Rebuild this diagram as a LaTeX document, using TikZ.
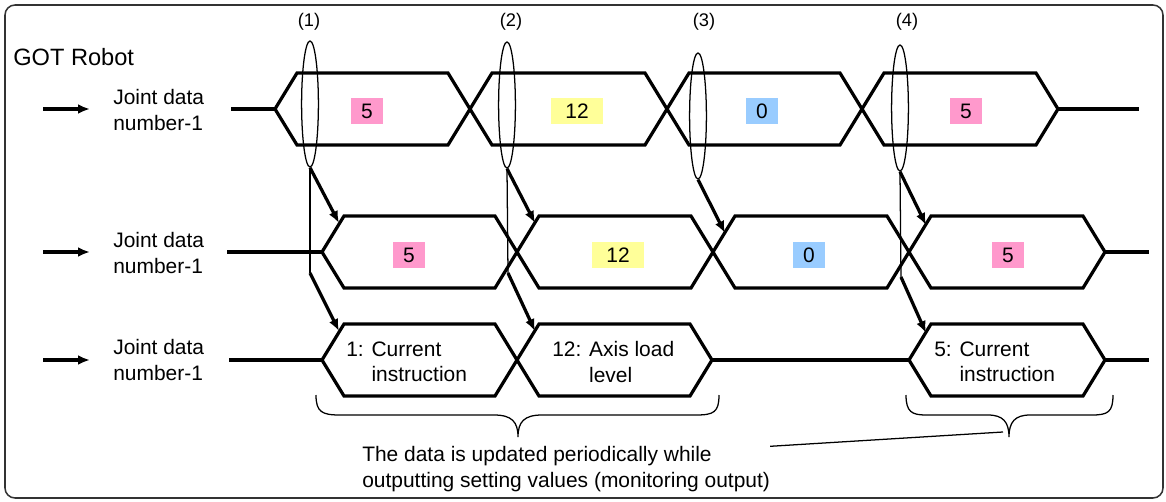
\documentclass[tikz,border=0pt]{standalone}
\usepackage{fontspec}
\setmainfont{Liberation Sans}
\usetikzlibrary{arrows.meta, shapes.geometric}

\definecolor{pinkv}{HTML}{FF99CC}
\definecolor{yellowv}{HTML}{FFFF99}
\definecolor{bluev}{HTML}{99CCFF}
\definecolor{framec}{HTML}{333333}

% one data slot of the timing line: left tip, right tip, middle height
\newcommand{\hexa}[3]{\draw[wave] (#1,#3) -- ({#1+22},{#3-36}) -- ({#2-22},{#3-36}) -- (#2,#3) -- ({#2-22},{#3+36}) -- ({#1+22},{#3+36}) -- cycle;}
\newcommand{\txtsize}{\fontsize{14.9}{18}\selectfont}

\begin{document}
\begin{tikzpicture}[x=0.025cm, y=-0.025cm,
	wave/.style = {line width=2.3pt, line join=miter},
	thinl/.style = {line width=0.9pt},
	feed/.style = {-{Latex[length=8.5pt, width=7pt]}, line width=2.3pt},
	val/.style = {inner sep=0, minimum height=0.65cm, minimum width=0.8cm, font=\txtsize},
	lab/.style = {anchor=west, align=left, inner sep=0, font=\txtsize},
	ell/.style = {ellipse, draw, thinl, inner sep=0, minimum width=0.42cm, minimum height=3.15cm}]
	\useasboundingbox (0,0) rectangle (1166,501);
	\draw[framec, line width=1.1pt, rounded corners=0.25cm] (5,5) rectangle (1163,498);

	\node[anchor=west, inner sep=0, font=\fontsize{16.8}{20}\selectfont] (got) at (13,57) {GOT Robot};

	% row labels and input arrows
	\node[lab] (lab1) at (113,110) {Joint data\\number-1};
	\node[lab] (lab2) at (113,253) {Joint data\\number-1};
	\node[lab] (lab3) at (113,360) {Joint data\\number-1};
	\coordinate (in1) at (43,109);  \coordinate (to1) at (90,109);
	\coordinate (in2) at (43,252);  \coordinate (to2) at (90,252);
	\coordinate (in3) at (43,360);  \coordinate (to3) at (90,360);
	\draw[feed] (in1) -- (to1);
	\draw[feed] (in2) -- (to2);
	\draw[feed] (in3) -- (to3);

	% row 1
	\draw[wave] (231,109) -- (275,109);
	\hexa{275}{470}{109}
	\hexa{470}{667}{109}
	\hexa{667}{862}{109}
	\hexa{862}{1058}{109}
	\draw[wave] (1058,109) -- (1139,109);
	\node[val, fill=pinkv] (v11) at (367,111) {5};
	\node[val, fill=yellowv, minimum width=1.32cm] (v12) at (577,111) {12};
	\node[val, fill=bluev] (v13) at (762,111) {0};
	\node[val, fill=pinkv] (v14) at (966,111) {5};

	% row 2
	\draw[wave] (227,252) -- (322,252);
	\hexa{322}{517}{252}
	\hexa{517}{713}{252}
	\hexa{713}{909}{252}
	\hexa{909}{1105}{252}
	\draw[wave] (1105,252) -- (1149,252);
	\node[val, fill=pinkv] (v21) at (409,255) {5};
	\node[val, fill=yellowv, minimum width=1.32cm] (v22) at (618,255) {12};
	\node[val, fill=bluev] (v23) at (809,255) {0};
	\node[val, fill=pinkv] (v24) at (1008,255) {5};

	% row 3
	\draw[wave] (229,360) -- (322,360);
	\hexa{322}{517}{360}
	\hexa{517}{712}{360}
	\draw[wave] (712,360) -- (909,360);
	\hexa{909}{1105}{360}
	\draw[wave] (1105,360) -- (1149,360);
	\node[lab] (t31) at (346,362) {1: Current\\\phantom{1: }instruction};
	\node[lab] (t32) at (552,362) {12: Axis load\\\phantom{12: }level};
	\node[lab] (t33) at (934,362) {5: Current\\\phantom{5: }instruction};

	% sampling points
	\node[ell] (e1) at (310,104) {};
	\node[ell] (e2) at (507,105) {};
	\node[ell] (e3) at (698,116) {};
	\node[ell] (e4) at (900,108) {};
	\node[font=\fontsize{13}{15}\selectfont] (n1) at (309,22) {(1)};
	\node[font=\fontsize{13}{15}\selectfont] (n2) at (511,22) {(2)};
	\node[font=\fontsize{13}{15}\selectfont] (n3) at (704,22) {(3)};
	\node[font=\fontsize{13}{15}\selectfont] (n4) at (907,22) {(4)};

	\coordinate (k1) at (310,273);
	\coordinate (k2) at (508,273);
	\coordinate (k4) at (901,277);
	\coordinate (c21) at (339,223);
	\coordinate (c22) at (535,223);
	\coordinate (c23) at (725,233);
	\coordinate (c24) at (926,225);
	\coordinate (c31) at (339,331);
	\coordinate (c32) at (535,331);
	\coordinate (c34) at (926,333);
	\draw[thinl] (e1.south) -- (k1);
	\draw[thinl] (e2.south) -- (k2);
	\draw[thinl] (e4.south) -- (k4);
	\draw[feed] (e1.south) -- (c21);
	\draw[feed] (e2.south) -- (c22);
	\draw[feed] (e3.south) -- (c23);
	\draw[feed] (e4.south) -- (c24);
	\draw[feed] (k1) -- (c31);
	\draw[feed] (k2) -- (c32);
	\draw[feed] (k4) -- (c34);

	% braces and note
	\draw[thinl] (316,395) .. controls (316,412) and (322,415) .. (340,415) -- (494,415)
		.. controls (512,415) and (518,422) .. (518,437)
		.. controls (518,422) and (524,415) .. (542,415) -- (696,415)
		.. controls (714,415) and (719,412) .. (719,395);
	\draw[thinl] (906,395) .. controls (906,412) and (912,415) .. (926,415) -- (988,415)
		.. controls (1003,415) and (1009,422) .. (1009,437)
		.. controls (1009,422) and (1015,415) .. (1030,415) -- (1092,415)
		.. controls (1108,415) and (1113,412) .. (1113,395);
	\coordinate (b2tip) at (1003,432);
	\node[lab] (note) at (362,469) {The data is updated periodically while\\outputting setting values (monitoring output)};
	\draw[thinl] (note.north east) -- (b2tip);
\end{tikzpicture}
\end{document}
